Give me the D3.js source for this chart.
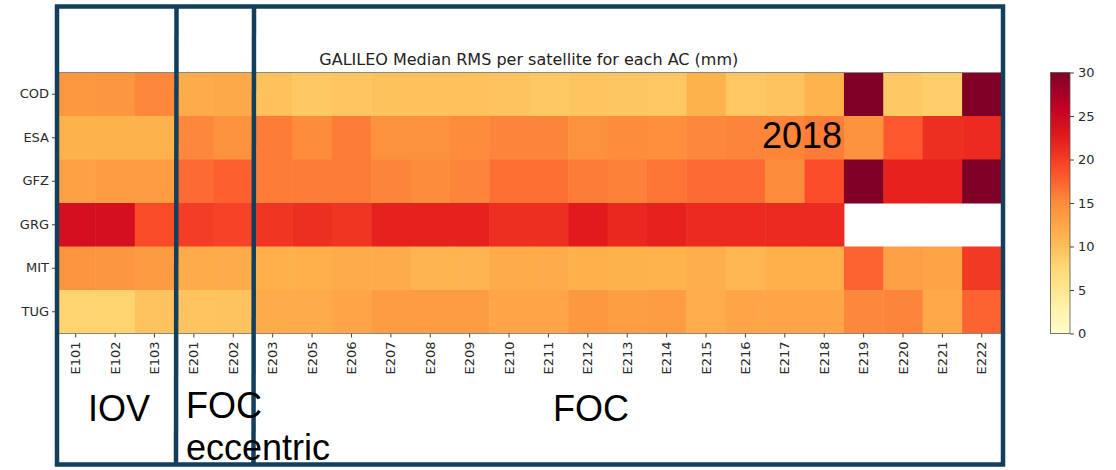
<!DOCTYPE html>
<html><head><meta charset="utf-8">
<script src="https://cdn.jsdelivr.net/npm/d3@7"></script>
<style>body{margin:0;background:#fff;}svg{display:block;}</style>
</head><body>
<svg id="c" width="1116" height="470"></svg>
<script>
const satellites = ["E101","E102","E103","E201","E202","E203","E205","E206","E207","E208","E209","E210","E211","E212","E213","E214","E215","E216","E217","E218","E219","E220","E221","E222"];
const centers = ["COD","ESA","GFZ","GRG","MIT","TUG"];
const COD = [14, 14.1, 15.3, 12, 12.2, 9.8, 9.0, 9.4, 9.7, 9.8, 9.8, 9.6, 9.0, 9.5, 9.3, 9.2, 11.3, 9.2, 9.6, 11.2, 30, 9.0, 8.6, 30];
const ESA = [11.3, 11.3, 11.3, 15.3, 14.5, 16, 15, 16, 14.5, 14.5, 15, 15.5, 15.5, 14.5, 15, 14.8, 15.3, 15.5, 15.5, 16, 14.5, 18.2, 21, 21.3];
const GFZ = [13, 13.5, 13.5, 17, 17.7, 16, 16, 16, 15.5, 15, 15.5, 16.8, 16.8, 16, 15.7, 16.4, 17, 17, 15, 18.8, 30, 22, 22, 30];
const GRG = [24, 24, 19, 20, 19.6, 20.5, 21, 20.5, 22, 22, 22, 21, 21, 22.5, 21.5, 22, 21.3, 21.3, 21.3, 21.3, null, null, null, null];
const MIT = [14.3, 14.1, 13.6, 12, 12, 11.5, 11.5, 12, 12, 11, 11, 12, 12, 11.5, 11.3, 11.2, 11.6, 10.8, 11.5, 11.5, 17.5, 13.2, 12.7, 20.3];
const TUG = [8, 8, 9.6, 9.5, 9.6, 12, 12, 12.5, 13.5, 13.5, 13.5, 12.5, 12.5, 14, 13.3, 13.5, 11.8, 12.5, 12.5, 12.5, 15.3, 15.5, 12.3, 17.5];
const colorTicks = [0, 5, 10, 15, 20, 25, 30];
const title = "GALILEO Median RMS per satellite for each AC (mm)";
const groupLabels = ["IOV", "FOC", "eccentric", "FOC"];

const rows = {COD, ESA, GFZ, GRG, MIT, TUG};
const cells = [];
centers.forEach(c => rows[c].forEach((v, i) => { if (v !== null) cells.push({ac: c, sat: satellites[i], v}); }));

const ylorrd = ["#ffffcc","#ffeda0","#fed976","#feb24c","#fd8d3c","#fc4e2a","#e31a1c","#bd0026","#800026"];
const color = d3.scaleLinear().domain(ylorrd.map((_, i) => i * 30 / 8)).range(ylorrd).interpolate(d3.interpolateRgb).clamp(true);

const svg = d3.select("#c");
const X0 = 56, X1 = 1001.5, Y0 = 72.5, Y1 = 333.5;
const x = d3.scaleBand().domain(satellites).range([X0, X1]);
const y = d3.scaleBand().domain(centers).range([Y0, Y1]);

svg.append("g").selectAll("rect").data(cells).join("rect")
  .attr("x", d => x(d.sat)).attr("y", d => y(d.ac))
  .attr("width", x.bandwidth() + 0.5).attr("height", y.bandwidth() + 0.5)
  .attr("fill", d => color(d.v));

svg.append("rect").attr("x", X0).attr("y", Y0).attr("width", X1 - X0).attr("height", Y1 - Y0)
  .attr("fill", "none").attr("stroke", "#888").attr("stroke-width", 1);

const font = "DejaVu Sans, sans-serif";
const ya = svg.append("g").attr("transform", `translate(${X0},0)`)
  .call(d3.axisLeft(y).tickSize(4).tickPadding(3));
ya.select(".domain").remove();
ya.selectAll("line").attr("stroke", "#444");
ya.selectAll("text").attr("font-family", font).attr("font-size", 13).attr("fill", "#2a2a2a");

const xa = svg.append("g").attr("transform", `translate(0,${Y1})`)
  .call(d3.axisBottom(x).tickSize(4).tickPadding(3));
xa.select(".domain").remove();
xa.selectAll("line").attr("stroke", "#444");
xa.selectAll("text").attr("font-family", font).attr("font-size", 13).attr("fill", "#2a2a2a")
  .attr("transform", "rotate(-90)").attr("text-anchor", "end")
  .attr("x", -8).attr("y", 0).attr("dy", "0.35em");

svg.append("text").attr("x", (X0 + X1) / 2).attr("y", 65).attr("text-anchor", "middle")
  .attr("font-family", font).attr("font-size", 16).attr("fill", "#222").text(title);

// colorbar
const CB0 = 1050.5, CBW = 19.5;
const cy = d3.scaleLinear().domain([0, 30]).range([Y1, Y0]);
const defs = svg.append("defs");
const grad = defs.append("linearGradient").attr("id", "cb").attr("x1", 0).attr("x2", 0).attr("y1", 1).attr("y2", 0);
d3.range(0, 30.01, 1).forEach(v => grad.append("stop").attr("offset", v / 30).attr("stop-color", color(v)));
svg.append("rect").attr("x", CB0).attr("y", Y0).attr("width", CBW).attr("height", Y1 - Y0)
  .attr("fill", "url(#cb)").attr("stroke", "#555").attr("stroke-width", 0.8);
const ca = svg.append("g").attr("transform", `translate(${CB0 + CBW},0)`)
  .call(d3.axisRight(cy).tickValues(colorTicks).tickSize(4).tickPadding(4));
ca.select(".domain").remove();
ca.selectAll("line").attr("stroke", "#444");
ca.selectAll("text").attr("font-family", font).attr("font-size", 13).attr("fill", "#2a2a2a");

// overlay boxes
const ink = "#133f5b";
const ov = svg.append("g").attr("fill", "none").attr("stroke", ink).attr("stroke-width", 4.5);
ov.append("rect").attr("x", 57).attr("y", 6.5).attr("width", 946).attr("height", 458);
ov.append("line").attr("x1", 176.5).attr("x2", 176).attr("y1", 6.5).attr("y2", 464.5);
ov.append("line").attr("x1", 254).attr("x2", 253.5).attr("y1", 6.5).attr("y2", 464.5);

const af = "Liberation Sans, Arial, sans-serif";
const ann = [
  {t: groupLabels[0], x: 88, y: 421},
  {t: groupLabels[1], x: 186, y: 418},
  {t: groupLabels[2], x: 186, y: 460},
  {t: groupLabels[3], x: 553, y: 421},
  {t: "2018", x: 762, y: 148}
];
svg.append("g").selectAll("text").data(ann).join("text")
  .attr("x", d => d.x).attr("y", d => d.y).attr("font-family", af).attr("font-size", 36)
  .attr("fill", "#000").text(d => d.t);
</script>
</body></html>
